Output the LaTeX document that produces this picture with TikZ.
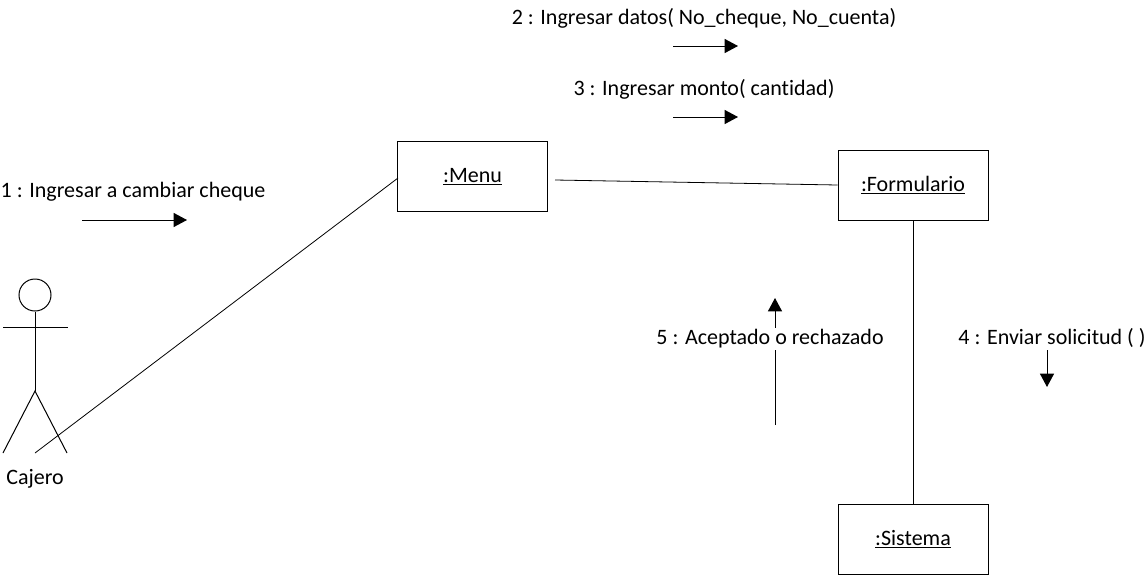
\documentclass[tikz,border=0pt]{standalone}
\usepackage{fontspec}
\setmainfont{Carlito}[Ligatures={NoCommon}]
\usetikzlibrary{positioning,arrows.meta,calc}
\newcommand{\objname}[1]{\raisebox{-4.5pt}[0pt][0pt]{\underline{#1}}}
\tikzset{
	objbox/.style={rectangle,draw,line width=0.75pt,minimum width=112.5pt,minimum height=52.5pt,inner sep=0pt,font=\fontsize{16.5}{18}\selectfont},
	msg/.style={inner sep=1pt,fill=white,font=\fontsize{16.5}{18}\selectfont},
	link/.style={line width=0.6pt},
	flow/.style={line width=0.75pt,-{Triangle[length=10pt,width=10.5pt]}},
}

\begin{document}
\begin{tikzpicture}[x=0.75pt,y=-0.75pt]
	\useasboundingbox (0,0) rectangle (1146,575);

	\node[objbox] (menu) at (472.5,176) {\objname{:Menu}};
	\node[objbox] (form) at (913,185) {\objname{:Formulario}};
	\node[objbox] (sist) at (913,539) {\objname{:Sistema}};

	%actor
	\node[circle,draw,line width=0.75pt,minimum size=24pt,inner sep=0pt] (head) at (35,295) {};
	\coordinate (hip) at (35,391);
	\coordinate (armL) at (3,327);
	\coordinate (armR) at (68,327);
	\coordinate (legL) at (3,453);
	\coordinate (legR) at (67,453);
	\node[msg] (cajero) at (35,479) {Cajero};
	\draw[line width=0.75pt] (head) -- (hip);
	\draw[line width=0.75pt] (armL) -- (armR);
	\draw[line width=0.75pt] (legL) -- (hip) -- (legR);

	%links
	\coordinate (foot) at (35,453);
	\coordinate (menuR) at (555,180);
	\draw[link] (foot) -- (398,178);
	\draw[link] (menuR) -- (form.west);
	\draw[line width=0.75pt] (form.south) -- (sist.north);

	%arrows, 5 goes first so that its label cuts it
	\coordinate (a1s) at (82,220);
	\coordinate (a1e) at (187,220);
	\coordinate (a2s) at (673,46);
	\coordinate (a2e) at (738,46);
	\coordinate (a3s) at (673,117);
	\coordinate (a3e) at (738,117);
	\coordinate (a4s) at (1047,350);
	\coordinate (a4e) at (1047,387);
	\coordinate (a5s) at (775,425);
	\coordinate (a5e) at (775,298);
	\draw[flow] (a1s) -- (a1e);
	\draw[flow] (a2s) -- (a2e);
	\draw[flow] (a3s) -- (a3e);
	\draw[flow] (a4s) -- (a4e);
	\draw[flow] (a5s) -- (a5e);

	\node[msg] (m1) at (133,192) {1 : Ingresar a cambiar cheque};
	\node[msg] (m2) at (704,18) {2 : Ingresar datos( No\_cheque, No\_cuenta)};
	\node[msg] (m3) at (704,89) {3 : Ingresar monto( cantidad)};
	\node[msg] (m4) at (1052,338) {4 : Enviar solicitud ( )};
	\node[msg] (m5) at (770,339) {5 : Aceptado o rechazado};
\end{tikzpicture}
\end{document}
